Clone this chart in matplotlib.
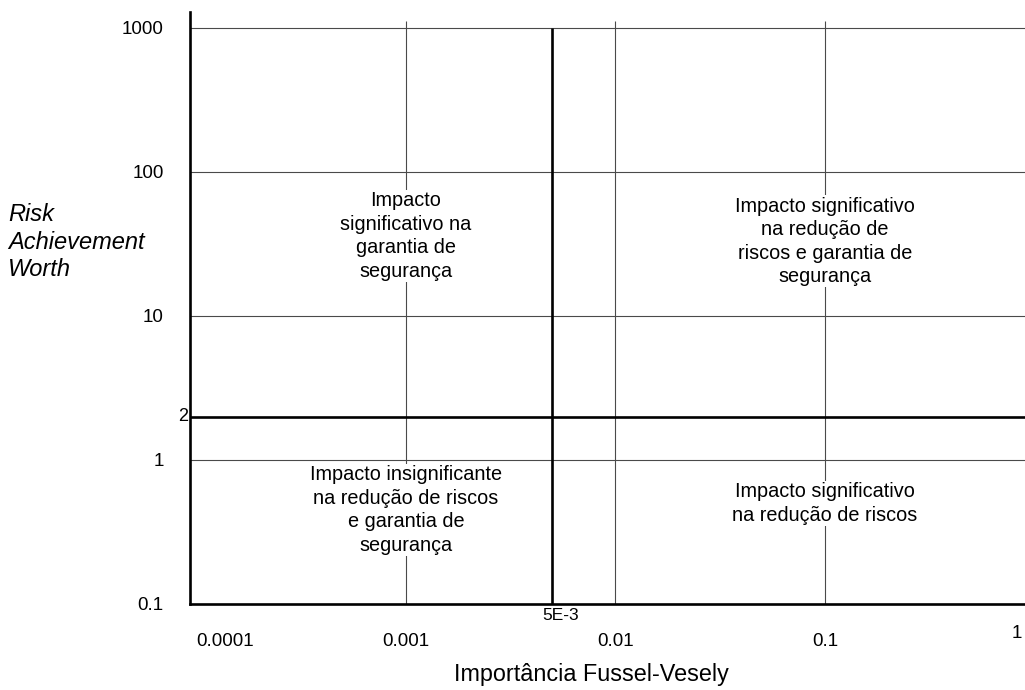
"""Risk Achievement Worth vs Fussel-Vesely importance quadrant chart."""

import matplotlib
matplotlib.use("Agg")
import matplotlib.pyplot as plt
from matplotlib.ticker import NullLocator

plt.rcParams['font.family'] = ['Liberation Sans', 'DejaVu Sans']

# axis ticks
x_ticks = [1e-4, 1e-3, 1e-2, 1e-1, 1]
x_labels = ['0.0001', '0.001', '0.01', '0.1', '1']
y_ticks = [0.1, 1, 10, 100, 1000]
y_labels = ['0.1', '1', '10', '100', '1000']

# thresholds
fv_limit = 5e-3
raw_limit = 2

# quadrant captions: (x, y, text)
quad_x = [1e-3, 1e-1, 1e-3, 1e-1]
quad_y = [36, 33, 0.45, 0.5]
quad_text = [
    "Impacto\nsignificativo na\ngarantia de\nsegurança",
    "Impacto significativo\nna redução de\nriscos e garantia de\nsegurança",
    "Impacto insignificante\nna redução de riscos\ne garantia de\nsegurança",
    "Impacto significativo\nna redução de riscos",
]

grid_col = '#4a4a4a'

fig = plt.figure(figsize=(10.25, 6.9), dpi=100)
ax = fig.add_axes([190 / 1025, 86 / 690, 835 / 1025, 592 / 690])
ax.set_xscale('log')
ax.set_yscale('log')
ax.set_xlim(10 ** -4.03, 10 ** -0.046)
ax.set_ylim(0.1, 1290)

# grid
ax.vlines(x_ticks[1:4], 0.1, 1120, color=grid_col, lw=0.8, zorder=1)
for y in y_ticks[1:]:
    ax.axhline(y, color=grid_col, lw=0.8, zorder=1)

# thresholds
ax.axhline(raw_limit, color='black', lw=1.9, zorder=3)
ax.vlines(fv_limit, 0.1, 1000, color='black', lw=1.9, zorder=3)

for s in ['top', 'right']:
    ax.spines[s].set_visible(False)
for s in ['left', 'bottom']:
    ax.spines[s].set_linewidth(1.9)
    ax.spines[s].set_zorder(4)

ax.xaxis.set_minor_locator(NullLocator())
ax.yaxis.set_minor_locator(NullLocator())
ax.set_xticks(x_ticks[:-1])
ax.set_xticklabels(x_labels[:-1])
ax.set_yticks(y_ticks)
ax.set_yticklabels(y_labels)
ax.tick_params(axis='both', which='both', length=0, labelsize=13.5)
ax.tick_params(axis='x', pad=21)
ax.tick_params(axis='y', pad=19)
ax.get_xticklabels()[0].set_ha('left')

# last x label sits a bit higher, at the right edge
ax.annotate(x_labels[-1], xy=(1, 0), xycoords='axes fraction',
            xytext=(-2, -21), textcoords='offset points',
            ha='right', va='center', fontsize=13.5)

for x, y, t in zip(quad_x, quad_y, quad_text):
    ax.text(x, y, t, ha='center', va='center', fontsize=14.3,
            linespacing=1.3, zorder=5,
            bbox=dict(facecolor='white', edgecolor='none', pad=1))

ax.annotate(str(raw_limit), xy=(0, raw_limit), xycoords=('axes fraction', 'data'),
            xytext=(-1, 0), textcoords='offset points', ha='right', va='center',
            fontsize=13)
ax.annotate('5E-3', xy=(fv_limit, 0.1), xytext=(6, -3), textcoords='offset points',
            ha='center', va='top', fontsize=12.5)

ax.set_xlabel('Importância Fussel-Vesely', fontsize=16.8)
ax.xaxis.set_label_coords((591 - 190) / 835, -0.1)
fig.text(8 / 1025, 1 - 242 / 690, 'Risk\nAchievement\nWorth', fontsize=17,
         style='italic', ha='left', va='center', linespacing=1.25)

fig.savefig('out.png', dpi=100)
